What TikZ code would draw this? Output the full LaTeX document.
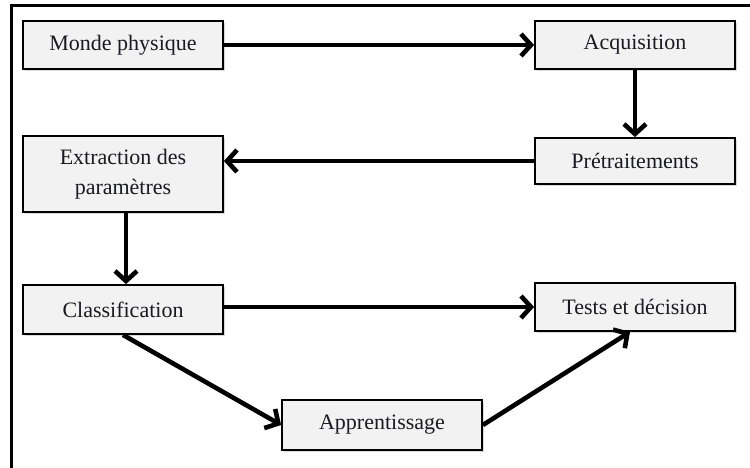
\documentclass[tikz,border=0pt]{standalone}
\usepackage{fontspec}
\setmainfont{Liberation Serif}
\usetikzlibrary{arrows.meta,shadows}
\definecolor{boxfill}{HTML}{F2F2F2}
\definecolor{ink}{HTML}{1A1A22}
\begin{document}
\begin{tikzpicture}[x=1pt,y=-1pt,
  stage/.style={draw=black, line width=1.8pt, fill=boxfill,
    minimum width=200pt, inner sep=2pt, align=center,
    text=ink, font=\fontsize{22}{30}\selectfont,
    drop shadow={opacity=0.3, shadow xshift=2pt, shadow yshift=-2pt}},
  flow/.style={line width=4.6pt, -{Straight Barb[length=10pt,width=22pt]}}]
  \useasboundingbox (0,0) rectangle (750,468);
  % outer frame (top and left edges)
  \draw[line width=3pt] (11,468) -- (11,6) -- (750,6);
  % stages
  \node[stage, minimum height=48pt] (mp)  at (123,45)    {Monde physique};
  \node[stage, minimum height=48pt] (acq) at (635,45)    {Acquisition};
  \node[stage, minimum height=46pt] (pre) at (635,161)   {Prétraitements};
  \node[stage, minimum height=76pt] (ext) at (123,174)   {Extraction des\\paramètres};
  \node[stage, minimum height=49pt] (cls) at (123,309.5) {Classification};
  \node[stage, minimum height=48pt] (tst) at (635,307)   {Tests et décision};
  \node[stage, minimum height=50pt] (app) at (382,425)   {Apprentissage};
  % connectors
  \draw[flow] (mp.east) -- (acq.west);
  \draw[flow] (acq.south) -- (pre.north);
  \draw[flow] (pre.west) -- (ext.east |- pre.west);
  \draw[flow] ([xshift=3pt]ext.south) -- ([xshift=3pt]cls.north);
  \draw[flow] (cls.east |- tst.west) -- (tst.west);
  \draw[flow] (cls.south) -- (app.west);
  \draw[flow] (app.east) -- ([xshift=-5pt]tst.south);
\end{tikzpicture}
\end{document}
